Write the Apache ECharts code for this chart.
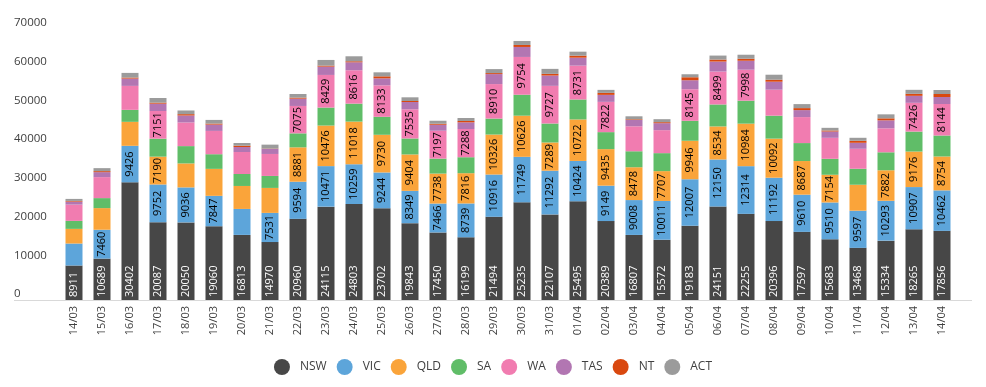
<!DOCTYPE html>
<html>
<head>
<meta charset="utf-8">
<script src="https://cdn.jsdelivr.net/npm/echarts@6/dist/echarts.min.js"></script>
<style>
html,body{margin:0;padding:0;background:#fff;}
#chart{width:986px;height:387px;}
</style>
</head>
<body>
<div id="chart"></div>
<script>
const categories = ['14/03','15/03','16/03','17/03','18/03','19/03','20/03','21/03','22/03','23/03','24/03','25/03','26/03','27/03','28/03','29/03','30/03','31/03','01/04','02/04','03/04','04/04','05/04','06/04','07/04','08/04','09/04','10/04','11/04','12/04','13/04','14/04'];
const NSW = [8911,10689,30402,20087,20050,19060,16813,14970,20960,24115,24803,23702,19843,17450,16199,21494,25235,22107,25495,20389,16807,15572,19183,24151,22255,20396,17597,15683,13468,15334,18265,17856];
const VIC = [5676,7460,9426,9752,9036,7847,6708,7531,9594,10471,10259,9244,8349,7466,8739,10916,11749,11292,10424,9149,9008,10011,12007,12150,12314,11192,9610,9510,9597,10293,10907,10462];
const QLD = [3784,5590,6192,7190,6192,6966,5934,6450,8881,10476,11018,9730,9404,7738,7816,10326,10626,7289,10722,9435,8478,7707,9946,8534,10984,10092,8687,7154,6708,7882,9176,8754];
const SA  = [2064,2580,3096,4644,4472,3784,3096,3096,3612,4644,4644,4644,4128,3870,4128,4128,5418,4902,5160,4386,4128,4644,5160,5676,5934,5934,4644,4128,4128,4644,5160,5418];
const WA  = [4214,5418,6192,7151,6106,6020,5676,5676,7075,8429,8616,8133,7535,7197,7288,8910,9754,9727,8731,7822,6450,5934,8145,8499,7998,6708,6708,5418,5160,6192,7426,8144];
const TAS = [774,1290,1892,1892,1806,1634,1290,1290,1892,2150,2064,1806,1892,1548,1720,2580,2580,2666,2064,1806,1634,1806,2322,2580,2322,2064,1806,1634,1548,2064,1806,1806];
const NT  = [172,258,258,258,344,258,344,86,258,258,258,516,258,258,344,258,516,430,516,516,172,258,774,516,516,516,516,258,516,516,516,774];
const ACT = [516,774,1204,1204,946,946,688,1032,946,1462,1290,1032,946,774,774,1032,1032,1290,1032,774,774,774,774,1032,1032,1290,1032,688,774,1032,1032,1032];
const seriesNames = ['NSW','VIC','QLD','SA','WA','TAS','NT','ACT'];
const seriesData = [NSW,VIC,QLD,SA,WA,TAS,NT,ACT];
const colors = ['#474747','#5DA5DA','#FAA43A','#60BD68','#F17CB0','#B276B2','#D9480F','#9B9B9B'];
const yTicks = {min:0, max:70000, interval:10000};
const labelThreshold = 7000;

const chart = echarts.init(document.getElementById('chart'));
const FONT = 'Open Sans';
const series = seriesNames.map((name, i) => ({
  name: name,
  type: 'bar',
  stack: 'total',
  barWidth: 17,
  data: seriesData[i],
  itemStyle: {color: colors[i]},
  label: {
    show: true,
    rotate: 90,
    position: i === 0 ? 'insideBottom' : 'inside',
    distance: 3,
    align: i === 0 ? 'left' : 'center',
    verticalAlign: 'middle',
    fontFamily: FONT,
    fontSize: 11,
    color: i === 0 ? '#ffffff' : '#000000',
    formatter: p => (p.value >= labelThreshold ? String(p.value) : '')
  },
  emphasis: {disabled: true}
}));

chart.setOption({
  animation: false,
  color: colors,
  textStyle: {fontFamily: FONT},
  grid: {left: 60, right: 30, top: 29, bottom: 87, containLabel: false},
  legend: {
    data: seriesNames,
    bottom: 7,
    left: 'center',
    icon: 'circle',
    itemWidth: 16,
    itemHeight: 16,
    itemGap: 10,
    textStyle: {fontFamily: FONT, fontSize: 12, color: '#404040', padding: [0,0,0,5]}
  },
  xAxis: {
    type: 'category',
    data: categories,
    axisLine: {show: false},
    axisTick: {show: false},
    axisLabel: {rotate: 90, margin: 6, fontFamily: FONT, fontSize: 11, color: '#404040'}
  },
  yAxis: {
    type: 'value',
    min: yTicks.min,
    max: yTicks.max,
    interval: yTicks.interval,
    splitLine: {show: false},
    axisLine: {show: false},
    axisTick: {show: false},
    axisLabel: {align: 'left', margin: 46, verticalAlign: 'bottom', fontFamily: FONT, fontSize: 11.5, color: '#404040', formatter: v => String(v)}
  },
  graphic: [{
    type: 'line',
    shape: {x1: 14, y1: 300.5, x2: 972, y2: 300.5},
    style: {stroke: '#D9D9D9', lineWidth: 1},
    z: 10
  }],
  series: series
});
</script>
</body>
</html>
